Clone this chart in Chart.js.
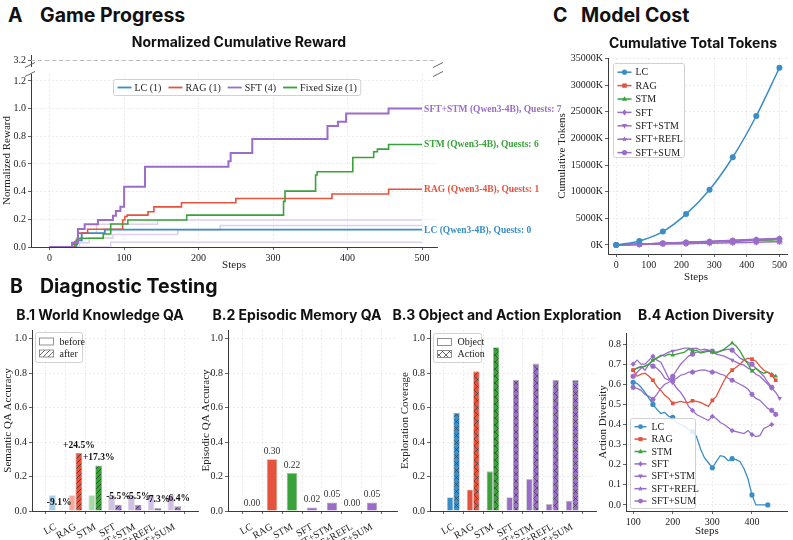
<!DOCTYPE html>
<html><head><meta charset="utf-8">
<script src="https://cdn.jsdelivr.net/npm/chart.js@4.4.0/dist/chart.umd.min.js"></script>
<style>
html,body{margin:0;padding:0;background:#fff;}
#root{position:relative;width:793px;height:540px;overflow:hidden;background:#fff;}
canvas{position:absolute;}
.h{position:absolute;font-family:Inter,'Open Sans',sans-serif;font-weight:700;color:#111;white-space:nowrap;line-height:1;font-size:19.5px;}
.t{position:absolute;font-family:Inter,'Open Sans',sans-serif;font-weight:700;color:#111;white-space:nowrap;transform:translate(-50%,-50%);line-height:1;font-size:14px;}
.ax{position:absolute;font-family:'Liberation Serif','Times New Roman',serif;font-size:11px;color:#222;white-space:nowrap;transform:translate(-50%,-50%);line-height:1;}
</style></head><body><div id="root">
<canvas id="aTop" width="440" height="30" style="left:0;top:45px"></canvas>
<canvas id="aMain" width="580" height="250" style="left:0;top:30px"></canvas>
<canvas id="c" width="248" height="262" style="left:545px;top:30px"></canvas>
<canvas id="b1" width="205" height="220" style="left:0;top:320px"></canvas>
<canvas id="b2" width="200" height="220" style="left:200px;top:320px"></canvas>
<canvas id="b3" width="210" height="220" style="left:390px;top:320px"></canvas>
<canvas id="b4" width="203" height="220" style="left:590px;top:320px"></canvas>
<div class="h" style="left:8px;top:6px">A</div><div class="h" style="left:40px;top:6px">Game Progress</div>
<div class="h" style="left:553px;top:6px">C</div><div class="h" style="left:581px;top:6px">Model Cost</div>
<div class="h" style="left:10px;top:277px">B</div><div class="h" style="left:40px;top:277px">Diagnostic Testing</div>
<div class="t" style="left:239px;top:42px">Normalized Cumulative Reward</div>
<div class="t" style="left:693px;top:43px">Cumulative Total Tokens</div>
<div class="t" style="left:100px;top:315px">B.1 World Knowledge QA</div>
<div class="t" style="left:297px;top:315px">B.2 Episodic Memory QA</div>
<div class="t" style="left:507px;top:315px">B.3 Object and Action Exploration</div>
<div class="t" style="left:706px;top:315px">B.4 Action Diversity</div>
<div class="ax" style="left:696px;top:276px">Steps</div>
</div>
<script>
// ---------------- DATA ----------------
// Panel A: normalized cumulative reward (step changes: step, value)
const rewardXTicks = [0, 100, 200, 300, 400, 500];
const rewardYTicks = [0, 0.2, 0.4, 0.6, 0.8, 1.0, 1.2];
const rewardBreakTicks = [3.2];
const rewardBreakLevel = 3.2;
const sftStmRewardSteps = [0, 30, 38, 47, 65, 85, 89, 95, 100, 128, 240, 243, 272, 373, 387, 398, 455, 500];
const sftStmReward      = [0, 0.03, 0.13, 0.165, 0.195, 0.225, 0.26, 0.29, 0.435, 0.58, 0.62, 0.68, 0.78, 0.874, 0.905, 0.965, 1.0, 1.0];
const stmRewardSteps = [0, 31, 37, 72, 82, 105, 184, 314, 316, 357, 359, 407, 435, 440, 455, 500];
const stmReward      = [0, 0.02, 0.063, 0.094, 0.166, 0.195, 0.23, 0.33, 0.404, 0.52, 0.544, 0.647, 0.688, 0.707, 0.741, 0.741];
const ragRewardSteps = [0, 34, 38, 51, 98, 101, 104, 132, 140, 177, 250, 379, 455, 500];
const ragReward      = [0, 0.04, 0.1, 0.128, 0.195, 0.22, 0.23, 0.255, 0.29, 0.32, 0.35, 0.383, 0.417, 0.417];
const lcRewardSteps = [0, 36, 43, 74, 500];
const lcReward      = [0, 0.05, 0.1, 0.125, 0.125];
const sftARewardSteps = [0, 33, 44, 63, 145, 500];
const sftAReward      = [0, 0.04, 0.1, 0.165, 0.195, 0.195];
const sftBRewardSteps = [0, 40, 53, 85, 172, 229, 500];
const sftBReward      = [0, 0.03, 0.065, 0.09, 0.125, 0.155, 0.155];
const sftCRewardSteps = [0, 82, 500];
const sftCReward      = [0, 0.035, 0.035];
const rewardEndLabels = ['SFT+STM (Qwen3-4B), Quests: 7', 'STM (Qwen3-4B), Quests: 6', 'RAG (Qwen3-4B), Quests: 1', 'LC (Qwen3-4B), Quests: 0'];
const rewardLegendLabels = ['LC (1)', 'RAG (1)', 'SFT (4)', 'Fixed Size (1)'];

// Panel C: cumulative tokens (thousands)
const tokenXTicks = [0, 100, 200, 300, 400, 500];
const tokenYTicks = [0, 5000, 10000, 15000, 20000, 25000, 30000, 35000];
const tokenSteps = [0, 71, 143, 214, 286, 357, 429, 500];
const tokLC      = [0, 755, 2510, 5790, 10380, 16470, 24210, 33270];
const tokRAG     = [0, 140, 290, 440, 600, 760, 920, 1100];
const tokSTM     = [0, 130, 270, 410, 560, 710, 860, 1000];
const tokSFT     = [0, 160, 330, 500, 680, 860, 1050, 1250];
const tokSFTSTM  = [0, 150, 310, 470, 640, 810, 990, 1170];
const tokSFTREFL = [0, 80, 160, 240, 330, 420, 510, 600];
const tokSFTSUM  = [0, 140, 300, 450, 610, 780, 950, 1120];

// Panel B
const categories = ['LC', 'RAG', 'STM', 'SFT', 'SFT+STM', 'SFT+REFL', 'SFT+SUM'];
const accTicks = [0, 0.2, 0.4, 0.6, 0.8, 1.0];
const wkBefore = [0.091, 0.091, 0.091, 0.091, 0.091, 0.091, 0.091];
const wkAfter  = [0.0, 0.336, 0.264, 0.036, 0.036, 0.018, 0.027];
const wkDelta  = ['-9.1%', '+24.5%', '+17.3%', '-5.5%', '-5.5%', '-7.3%', '-6.4%'];
const episodicAcc = [0.00, 0.30, 0.22, 0.02, 0.05, 0.00, 0.05];
const objectCov = [0.08, 0.125, 0.23, 0.08, 0.185, 0.04, 0.06];
const actionCov = [0.57, 0.81, 0.95, 0.76, 0.855, 0.76, 0.76];

const divXTicks = [100, 200, 300, 400];
const divYTicks = [0, 0.1, 0.2, 0.3, 0.4, 0.5, 0.6, 0.7, 0.8];
const divSteps = [100,110,120,130,140,150,160,170,180,190,200,210,220,230,240,250,260,270,280,290,300,310,320,330,340,350,360,370,380,390,400,410,420,430,440,450,460,470];
const divLC      = [0.61,0.605,0.585,0.56,0.53,0.50,0.475,0.455,0.46,0.44,0.435,0.41,0.40,0.39,0.375,0.365,0.34,0.28,0.235,0.21,0.185,0.215,0.245,0.24,0.22,0.23,0.225,0.215,0.18,0.13,0.05,0.0,0.0,0.0,0.0];
const divRAG     = [0.67,0.64,0.65,0.655,0.64,0.62,0.59,0.57,0.545,0.53,0.505,0.51,0.515,0.51,0.51,0.518,0.515,0.51,0.50,0.49,0.52,0.54,0.58,0.62,0.65,0.67,0.685,0.70,0.72,0.73,0.725,0.715,0.69,0.67,0.66,0.645,0.62];
const divSTM     = [0.67,0.68,0.685,0.69,0.70,0.72,0.73,0.745,0.74,0.75,0.745,0.75,0.755,0.76,0.775,0.765,0.77,0.755,0.76,0.765,0.76,0.755,0.765,0.775,0.79,0.805,0.79,0.765,0.73,0.70,0.665,0.68,0.665,0.655,0.66,0.65,0.64];
const divSFT     = [0.70,0.72,0.70,0.70,0.72,0.74,0.72,0.71,0.67,0.63,0.61,0.58,0.56,0.53,0.49,0.47,0.45,0.44,0.43,0.42,0.44,0.43,0.41,0.40,0.385,0.37,0.365,0.36,0.355,0.37,0.35,0.34,0.345,0.38,0.39,0.40];
const divSFTSTM  = [0.67,0.68,0.69,0.67,0.70,0.72,0.73,0.74,0.75,0.76,0.765,0.77,0.775,0.78,0.78,0.775,0.78,0.77,0.775,0.77,0.76,0.75,0.745,0.74,0.73,0.72,0.71,0.70,0.695,0.68,0.67,0.65,0.64,0.62,0.60,0.58,0.56,0.53];
const divSFTREFL = [0.585,0.58,0.57,0.55,0.54,0.525,0.55,0.58,0.60,0.61,0.62,0.63,0.645,0.65,0.66,0.66,0.665,0.67,0.672,0.665,0.66,0.66,0.65,0.645,0.63,0.62,0.61,0.60,0.59,0.575,0.55,0.53,0.52,0.50,0.48,0.47,0.45];
const divSFTSUM  = [0.64,0.66,0.68,0.69,0.70,0.69,0.68,0.66,0.63,0.62,0.64,0.67,0.70,0.72,0.74,0.75,0.76,0.76,0.765,0.77,0.765,0.76,0.765,0.77,0.775,0.77,0.75,0.73,0.72,0.71,0.70,0.68,0.66,0.64,0.61,0.585];

// ---------------- STYLE ----------------
const SERIF = "'Liberation Serif','Times New Roman',Times,serif";
const GRID = 'rgba(0,0,0,0.09)';
const SPINE = '#3a3a3a';
const C = {LC:'#3a8dc5', RAG:'#e5533d', STM:'#3aa23a', SFT:'#9a6dc8'};
const LIGHT = {LC:'#a8cde8', RAG:'#f3a99c', STM:'#a6d8a6', SFT:'#d2bfe8'};
const FAINT = '#dcd0ec';
const catKeys = ['LC','RAG','STM','SFT','SFT','SFT','SFT'];

Chart.defaults.font.family = SERIF;
Chart.defaults.font.size = 10;
Chart.defaults.color = '#222';
Chart.defaults.animation = false;
Chart.defaults.responsive = false;
Chart.defaults.maintainAspectRatio = false;
Chart.defaults.plugins.legend.display = false;
Chart.defaults.plugins.tooltip.enabled = false;

function axis(o) {
  return {
    type: 'linear', min: o.min, max: o.max, display: o.display !== false,
    afterBuildTicks: s => { s.ticks = o.ticks.map(v => ({value: v})); },
    afterFit: s => { if (o.axis === 'y') s.width = o.size; else s.height = o.size; },
    ticks: { callback: o.fmt || (v => String(v)), padding: o.tickPad ?? 2, font: {size: o.fs || 10}, color: '#222',
             autoSkip: false, maxRotation: o.rot || 0, minRotation: o.rot || 0 },
    grid: { color: GRID, tickColor: SPINE, tickLength: 3, lineWidth: 0.8, drawOnChartArea: true },
    border: { display: o.border !== false, color: SPINE, width: 1, dash: [2, 2] },
    title: o.title ? { display: true, text: o.title, font: {size: 11}, color: '#222', padding: o.titlePad || {top:0,bottom:0} } : {display: false}
  };
}
const pairs = (xs, ys) => ys.map((y, i) => ({x: xs[i], y}));

function drawMarker(ctx, style, x, y, r, color, rot) {
  ctx.save(); ctx.translate(x, y); if (rot) ctx.rotate(rot * Math.PI / 180);
  ctx.fillStyle = color; ctx.strokeStyle = color; ctx.lineWidth = 1.2;
  ctx.beginPath();
  if (style === 'circle') ctx.arc(0, 0, r, 0, Math.PI * 2);
  else if (style === 'rect') ctx.rect(-r * 0.85, -r * 0.85, r * 1.7, r * 1.7);
  else if (style === 'triangle') { ctx.moveTo(0, -r * 1.1); ctx.lineTo(r, r * 0.7); ctx.lineTo(-r, r * 0.7); ctx.closePath(); }
  else if (style === 'rectRot') { ctx.moveTo(0, -r * 1.2); ctx.lineTo(r * 0.9, 0); ctx.lineTo(0, r * 1.2); ctx.lineTo(-r * 0.9, 0); ctx.closePath(); }
  else if (style === 'star') { for (let k = 0; k < 10; k++) { const a = -Math.PI/2 + k * Math.PI / 5; const rr = k % 2 ? r * 0.5 : r * 1.15; ctx.lineTo(Math.cos(a) * rr, Math.sin(a) * rr); } ctx.closePath(); }
  ctx.fill(); ctx.restore();
}
function rrect(ctx, x, y, w, h, r) {
  ctx.beginPath(); ctx.moveTo(x + r, y); ctx.lineTo(x + w - r, y); ctx.quadraticCurveTo(x + w, y, x + w, y + r);
  ctx.lineTo(x + w, y + h - r); ctx.quadraticCurveTo(x + w, y + h, x + w - r, y + h); ctx.lineTo(x + r, y + h);
  ctx.quadraticCurveTo(x, y + h, x, y + h - r); ctx.lineTo(x, y + r); ctx.quadraticCurveTo(x, y, x + r, y); ctx.closePath();
}
function legendPlugin(id, spec) {
  return { id, afterDraw(chart) {
    const ctx = chart.ctx, ca = chart.chartArea;
    const x0 = Math.round(ca.left + spec.dx) + 0.5, y0 = Math.round(ca.top + spec.dy) + 0.5;
    ctx.save();
    ctx.font = `${spec.fs || 10}px ${SERIF}`;
    const pad = spec.pad ?? 4, sw = spec.sw ?? 15, tg = spec.tg ?? 3, gap = spec.gap ?? 8, rowH = spec.rowH ?? 12;
    const widths = spec.items.map(it => ctx.measureText(it.label).width);
    let w, h;
    if (spec.horizontal) { w = pad * 2 + widths.reduce((a, b) => a + b, 0) + spec.items.length * (sw + tg) + (spec.items.length - 1) * gap; h = spec.h; }
    else { w = spec.w || (pad * 2 + sw + tg + Math.max(...widths)); h = spec.h || (pad * 2 + rowH * spec.items.length); }
    ctx.fillStyle = 'rgba(255,255,255,0.85)'; ctx.strokeStyle = '#cccccc'; ctx.lineWidth = 0.9;
    rrect(ctx, x0, y0, w, h, 2); ctx.fill(); ctx.stroke();
    let cx = x0 + pad;
    spec.items.forEach((it, i) => {
      const ix = spec.horizontal ? cx : x0 + pad;
      const iy = spec.horizontal ? y0 + h / 2 : y0 + (spec.top ?? pad) + rowH * (i + 0.5);
      if (spec.patch) {
        const ph = spec.ph || 7;
        ctx.fillStyle = it.fill; ctx.fillRect(ix, iy - ph / 2, sw, ph);
        ctx.strokeStyle = '#777'; ctx.lineWidth = 0.8; ctx.strokeRect(ix, iy - ph / 2, sw, ph);
      } else {
        ctx.strokeStyle = it.color; ctx.lineWidth = it.lw || 1.5;
        ctx.beginPath(); ctx.moveTo(ix, iy); ctx.lineTo(ix + sw, iy); ctx.stroke();
        if (it.marker) drawMarker(ctx, it.marker, ix + sw / 2, iy, it.r || 2.6, it.color, it.rot);
      }
      ctx.fillStyle = '#222'; ctx.textBaseline = 'middle'; ctx.textAlign = 'left';
      ctx.fillText(it.label, ix + sw + tg, iy + 0.5);
      cx += sw + tg + widths[i] + gap;
    });
    ctx.restore();
  }};
}
function hatch(canvasId, bg, kind, lc) {
  const s = kind === 'x' ? 7 : 5;
  const t = document.createElement('canvas'); t.width = s; t.height = s;
  const g = t.getContext('2d');
  g.fillStyle = bg; g.fillRect(0, 0, s, s);
  g.strokeStyle = lc; g.lineWidth = 0.8;
  g.beginPath();
  for (const o of [-s, 0, s]) { g.moveTo(o, s); g.lineTo(o + s, 0); }
  if (kind === 'x') for (const o of [-s, 0, s]) { g.moveTo(o, 0); g.lineTo(o + s, s); }
  g.stroke();
  return document.getElementById(canvasId).getContext('2d').createPattern(t, 'repeat');
}

// ---------------- PANEL A ----------------
new Chart(document.getElementById('aTop'), {
  type: 'line',
  data: { datasets: [{ data: [{x: -25, y: rewardBreakLevel}, {x: 520, y: rewardBreakLevel}], borderColor: '#bdbdbd', borderWidth: 1, borderDash: [4, 3], pointRadius: 0 }] },
  options: {
    devicePixelRatio: 1,
    layout: {padding: {left: 0, top: 10, right: 3, bottom: 9}},
    scales: {
      x: {type: 'linear', min: -25, max: 520, display: false},
      y: axis({axis: 'y', min: 3.1, max: 3.3, ticks: rewardBreakTicks, fmt: v => v.toFixed(1), size: 31})
    }
  }
});

const aSeries = [
  {xs: sftStmRewardSteps, ys: sftStmReward, color: C.SFT, lw: 2, label: rewardEndLabels[0]},
  {xs: stmRewardSteps, ys: stmReward, color: C.STM, lw: 1.6, label: rewardEndLabels[1]},
  {xs: ragRewardSteps, ys: ragReward, color: C.RAG, lw: 1.6, label: rewardEndLabels[2]},
  {xs: lcRewardSteps, ys: lcReward, color: C.LC, lw: 1.8, label: rewardEndLabels[3]},
  {xs: sftARewardSteps, ys: sftAReward, color: FAINT, lw: 1.5},
  {xs: sftBRewardSteps, ys: sftBReward, color: FAINT, lw: 1.5},
  {xs: sftCRewardSteps, ys: sftCReward, color: FAINT, lw: 1.5}
];
const endLabels = { id: 'endLabels', afterDatasetsDraw(chart) {
  const ctx = chart.ctx;
  chart.data.datasets.forEach((ds, i) => {
    if (!ds.endLabel) return;
    const meta = chart.getDatasetMeta(i); const pt = meta.data[meta.data.length - 1];
    ctx.save(); ctx.font = `bold 9.5px ${SERIF}`; ctx.fillStyle = ds.borderColor; ctx.textBaseline = 'middle';
    ctx.fillText(ds.endLabel, pt.x + 2, pt.y + 0.5); ctx.restore();
  });
}};
const breakMarks = { id: 'breakMarks', afterDraw(chart) {
  const ctx = chart.ctx, ca = chart.chartArea;
  ctx.save(); ctx.strokeStyle = '#555'; ctx.lineWidth = 0.9;
  const mark = (x, y) => { ctx.beginPath(); ctx.moveTo(x - 5, y + 2.5); ctx.lineTo(x + 5, y - 2.5); ctx.stroke(); };
  mark(ca.left - 1, ca.top); mark(ca.left - 1, ca.top - 9);
  mark(ca.right + 1, ca.top); mark(ca.right + 1, ca.top - 9);
  ctx.restore();
}};
new Chart(document.getElementById('aMain'), {
  type: 'line',
  data: { datasets: aSeries.map(s => ({ data: pairs(s.xs, s.ys), borderColor: s.color, borderWidth: s.lw, pointRadius: 0, stepped: 'before', fill: false, endLabel: s.label })) },
  options: {
    devicePixelRatio: 1,
    layout: {padding: {left: 0, top: 44, right: 143, bottom: 0}},
    scales: {
      x: axis({axis: 'x', min: -25, max: 520, ticks: rewardXTicks, size: 33, title: 'Steps', titlePad: {top: 0, bottom: 8}}),
      y: axis({axis: 'y', min: 0, max: 1.25, ticks: rewardYTicks, fmt: v => v.toFixed(1), size: 31, title: 'Normalized Reward', titlePad: {top: 1, bottom: 0}})
    }
  },
  plugins: [endLabels, breakMarks, legendPlugin('legA', {
    dx: 82, dy: 5, h: 16, horizontal: true, pad: 4, sw: 14, tg: 3, gap: 7,
    items: rewardLegendLabels.map((l, i) => ({label: l, color: [C.LC, C.RAG, C.SFT, C.STM][i], lw: 1.8}))
  })]
});

// ---------------- PANEL C ----------------
const tokSeries = [
  {name: 'LC', ys: tokLC, color: C.LC, marker: 'circle'},
  {name: 'RAG', ys: tokRAG, color: C.RAG, marker: 'rect'},
  {name: 'STM', ys: tokSTM, color: C.STM, marker: 'triangle'},
  {name: 'SFT', ys: tokSFT, color: C.SFT, marker: 'rectRot'},
  {name: 'SFT+STM', ys: tokSFTSTM, color: C.SFT, marker: 'triangle', rot: 180},
  {name: 'SFT+REFL', ys: tokSFTREFL, color: C.SFT, marker: 'star'},
  {name: 'SFT+SUM', ys: tokSFTSUM, color: C.SFT, marker: 'circle'}
];
const drawOrder = [0, 6, 5, 4, 3, 2, 1];
function markerDataset(s, xs, extra) {
  return Object.assign({
    data: pairs(xs, s.ys), borderColor: s.color, backgroundColor: s.color, borderWidth: 1.5,
    pointStyle: s.marker, pointRotation: s.rot || 0,
    pointBackgroundColor: s.color, pointBorderColor: s.color, pointBorderWidth: s.marker === 'star' ? 1.4 : 0,
    fill: false
  }, extra);
}
new Chart(document.getElementById('c'), {
  type: 'line',
  data: { datasets: drawOrder.map(i => markerDataset(tokSeries[i], tokenSteps, {pointRadius: 3, cubicInterpolationMode: 'monotone'})) },
  options: {
    devicePixelRatio: 1,
    layout: {padding: {left: 0, top: 28, right: 5, bottom: 0}},
    scales: {
      x: axis({axis: 'x', min: -25, max: 525, ticks: tokenXTicks, size: 38}),
      y: axis({axis: 'y', min: -1700, max: 35100, ticks: tokenYTicks, fmt: v => v + 'K', size: 63, title: 'Cumulative Tokens', titlePad: {top: 11, bottom: 0}})
    }
  },
  plugins: [legendPlugin('legC', {
    dx: 5, dy: 5, w: 71, h: 94, pad: 4, top: 2, rowH: 13.4, sw: 14, tg: 4,
    items: tokSeries.map(s => ({label: s.name, color: s.color, marker: s.marker, rot: s.rot, r: 2.6}))
  })]
});

// ---------------- PANEL B ----------------
const catX = categories.map((c, i) => i);
function catAxis(min, max, size) {
  return axis({axis: 'x', min, max, ticks: catX, fmt: v => categories[v], size, rot: 30, tickPad: 7});
}
const barLabels = (id, dsIndex, textOf, font, color) => ({ id, afterDatasetsDraw(chart) {
  const ctx = chart.ctx; const meta = chart.getDatasetMeta(dsIndex);
  ctx.save(); ctx.font = font; ctx.fillStyle = color; ctx.textAlign = 'center'; ctx.textBaseline = 'middle';
  meta.data.forEach((el, i) => ctx.fillText(textOf(i), el.x, el.y - 8));
  ctx.restore();
}});

// B.1
new Chart(document.getElementById('b1'), {
  type: 'bar',
  data: { datasets: [
    { data: pairs(catX, wkBefore), backgroundColor: catKeys.map(k => LIGHT[k]), borderColor: 'rgba(0,0,0,0.18)', borderWidth: 0.8, categoryPercentage: 0.69, barPercentage: 1 },
    { data: pairs(catX, wkAfter), backgroundColor: catKeys.map(k => hatch('b1', C[k], '/', 'rgba(40,40,40,0.85)')), borderColor: 'rgba(0,0,0,0.35)', borderWidth: 0.8, categoryPercentage: 0.69, barPercentage: 1 }
  ]},
  options: {
    devicePixelRatio: 1,
    layout: {padding: {left: 0, top: 10, right: 7, bottom: 0}},
    scales: {
      x: catAxis(-0.6, 6.6, 29),
      y: axis({axis: 'y', min: 0, max: 1.05, ticks: accTicks, fmt: v => v.toFixed(1), size: 32, title: 'Semantic QA Accuracy', titlePad: {top: 2, bottom: 0}})
    }
  },
  plugins: [barLabels('lb1', 1, i => wkDelta[i], `bold 9.5px ${SERIF}`, '#111'), legendPlugin('legB1', {
    dx: 3, dy: 2, w: 47, h: 30, patch: true, pad: 4, top: 3, rowH: 12, sw: 14, tg: 6, ph: 7,
    items: [{label: 'before', fill: '#ffffff'}, {label: 'after', fill: hatch('b1', '#ffffff', '/', '#444')}]
  })]
});

// B.2
new Chart(document.getElementById('b2'), {
  type: 'bar',
  data: { datasets: [
    { data: pairs(catX, episodicAcc), backgroundColor: catKeys.map(k => C[k]), borderColor: 'rgba(0,0,0,0.3)', borderWidth: 0.8, categoryPercentage: 0.53, barPercentage: 1 }
  ]},
  options: {
    devicePixelRatio: 1,
    layout: {padding: {left: 0, top: 10, right: 3, bottom: 0}},
    scales: {
      x: catAxis(-0.6, 6.65, 29),
      y: axis({axis: 'y', min: 0, max: 1.05, ticks: accTicks, fmt: v => v.toFixed(1), size: 28, title: 'Episodic QA Accuracy', titlePad: {top: 0, bottom: 0}})
    }
  },
  plugins: [barLabels('lb2', 0, i => episodicAcc[i].toFixed(2), `9.5px ${SERIF}`, '#333')]
});

// B.3
new Chart(document.getElementById('b3'), {
  type: 'bar',
  data: { datasets: [
    { data: pairs(catX, objectCov), backgroundColor: catKeys.map(k => C[k]), borderColor: 'rgba(0,0,0,0.25)', borderWidth: 0.8, categoryPercentage: 0.65, barPercentage: 1 },
    { data: pairs(catX, actionCov), backgroundColor: catKeys.map(k => hatch('b3', C[k], 'x', 'rgba(60,60,60,0.8)')), borderColor: 'rgba(0,0,0,0.3)', borderWidth: 0.8, categoryPercentage: 0.65, barPercentage: 1 }
  ]},
  options: {
    devicePixelRatio: 1,
    layout: {padding: {left: 0, top: 10, right: 4, bottom: 0}},
    scales: {
      x: catAxis(-0.58, 6.6, 29),
      y: axis({axis: 'y', min: 0, max: 1.05, ticks: accTicks, fmt: v => v.toFixed(1), size: 40, title: 'Exploration Coverage', titlePad: {top: 9, bottom: 0}})
    }
  },
  plugins: [legendPlugin('legB3', {
    dx: 3, dy: 3, w: 48, h: 29, patch: true, pad: 4, top: 2.5, rowH: 12, sw: 14, tg: 6, ph: 7,
    items: [{label: 'Object', fill: '#ffffff'}, {label: 'Action', fill: hatch('b3', '#ffffff', 'x', '#444')}]
  })]
});

// B.4
const divSeries = [
  {name: 'LC', ys: divLC, color: C.LC, marker: 'circle'},
  {name: 'RAG', ys: divRAG, color: C.RAG, marker: 'rect'},
  {name: 'STM', ys: divSTM, color: C.STM, marker: 'triangle'},
  {name: 'SFT', ys: divSFT, color: C.SFT, marker: 'rectRot'},
  {name: 'SFT+STM', ys: divSFTSTM, color: C.SFT, marker: 'triangle', rot: 180},
  {name: 'SFT+REFL', ys: divSFTREFL, color: C.SFT, marker: 'star'},
  {name: 'SFT+SUM', ys: divSFTSUM, color: C.SFT, marker: 'circle'}
];
new Chart(document.getElementById('b4'), {
  type: 'line',
  data: { datasets: divSeries.map(s => markerDataset(s, divSteps, {
    borderWidth: 1.3,
    pointRadius: ctx => (ctx.dataIndex % 5 === 0 || ctx.dataIndex === s.ys.length - 1) ? 2.6 : 0
  })) },
  options: {
    devicePixelRatio: 1,
    layout: {padding: {left: 0, top: 13, right: 1, bottom: 0}},
    scales: {
      x: axis({axis: 'x', min: 82, max: 490, ticks: divXTicks, size: 29, title: 'Steps', titlePad: {top: 0, bottom: 2}}),
      y: axis({axis: 'y', min: -0.03, max: 0.855, ticks: divYTicks, fmt: v => v.toFixed(1), size: 36, title: 'Action Diversity', titlePad: {top: 7, bottom: 0}})
    }
  },
  plugins: [legendPlugin('legB4', {
    dx: 4, dy: 85, w: 65, h: 90, pad: 4, top: 2, rowH: 12.4, sw: 12, tg: 5,
    items: divSeries.map(s => ({label: s.name, color: s.color, marker: s.marker, rot: s.rot, r: 2.4}))
  })]
});
</script>
</body></html>
